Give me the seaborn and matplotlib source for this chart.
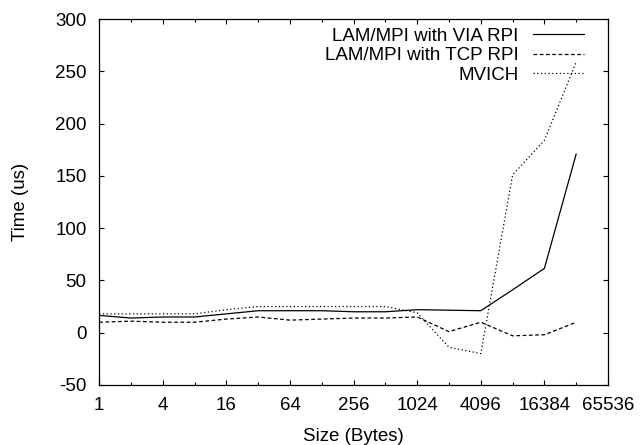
import numpy as np
import pandas as pd
import matplotlib
matplotlib.use("Agg")
import matplotlib.pyplot as plt
import matplotlib.ticker as mticker
import seaborn as sns

# message sizes in bytes (powers of two)
sizes = [1, 2, 4, 8, 16, 32, 64, 128, 256, 512, 1024, 2048, 4096, 8192, 16384, 32768]

# latency (us)
via_rpi = [16.5, 14, 15, 15, 18, 21, 21, 21, 20, 20, 22, 21.5, 21, 41, 61.5, 171]
tcp_rpi = [10, 11, 10, 10, 13, 15, 12, 13, 14, 14, 15, 1, 10, -3, -2, 10]
mvich = [18, 18, 18, 18, 22, 25, 25, 25, 25, 25, 19, -14, -20, 151, 184, 259]

series_names = ["LAM/MPI with VIA RPI", "LAM/MPI with TCP RPI", "MVICH"]
xtick_values = [1, 4, 16, 64, 256, 1024, 4096, 16384, 65536]

FS = 13.5


def latency_plot():
    frames = []
    for name, vals in zip(series_names, [via_rpi, tcp_rpi, mvich]):
        frames.append(pd.DataFrame({"size": sizes, "time": vals, "impl": name}))
    df = pd.concat(frames, ignore_index=True)

    sns.set_theme(style="ticks")
    plt.rcParams["font.family"] = ["Liberation Sans", "DejaVu Sans"]
    plt.rcParams["font.size"] = FS
    plt.rcParams["axes.unicode_minus"] = False
    plt.rcParams["text.color"] = "black"
    plt.rcParams["axes.labelcolor"] = "black"

    fig = plt.figure(figsize=(6.4, 4.45), dpi=100)
    ax = fig.add_axes([0.155, 0.135, 0.795, 0.822])

    sns.lineplot(data=df, x="size", y="time", hue="impl", style="impl",
                 palette=["black"] * 3,
                 dashes={series_names[0]: "", series_names[1]: (3, 2), series_names[2]: (1, 2)},
                 linewidth=0.9, ax=ax, legend=True)

    ax.set_xscale("log", base=2)
    ax.set_xlim(1, 65536)
    ax.set_xticks(xtick_values)
    ax.set_xticklabels([str(v) for v in xtick_values])
    ax.set_xticks([2 ** k for k in range(1, 16, 2)], minor=True)
    ax.xaxis.set_minor_formatter(mticker.NullFormatter())
    ax.set_ylim(-50, 300)
    ax.set_yticks(range(-50, 301, 50))

    ax.tick_params(which="both", direction="in", top=True, right=True,
                   labelsize=FS, colors="black", width=0.8)
    ax.tick_params(which="major", length=3.5)
    ax.tick_params(which="minor", length=2)
    ax.tick_params(axis="x", which="major", pad=9)
    ax.tick_params(axis="y", which="major", pad=9)
    for sp in ax.spines.values():
        sp.set_color("black")
        sp.set_linewidth(0.9)

    ax.set_xlabel("Size (Bytes)", fontsize=FS, labelpad=10, color="black")
    ax.set_ylabel("Time (us)", fontsize=FS, labelpad=19, color="black")

    handles, labels = ax.get_legend_handles_labels()
    leg = ax.legend(handles, labels, loc="upper right", bbox_to_anchor=(0.953, 0.976),
                    frameon=False, markerfirst=False, handlelength=2.7, fontsize=FS,
                    labelspacing=0.12, borderaxespad=0, borderpad=0, handletextpad=0.8,
                    labelcolor="black")
    for col in leg._legend_box.get_children()[1].get_children():
        col.align = "right"

    fig.savefig("out.png", dpi=100)
    plt.clf()


if __name__ == "__main__":
    latency_plot()
